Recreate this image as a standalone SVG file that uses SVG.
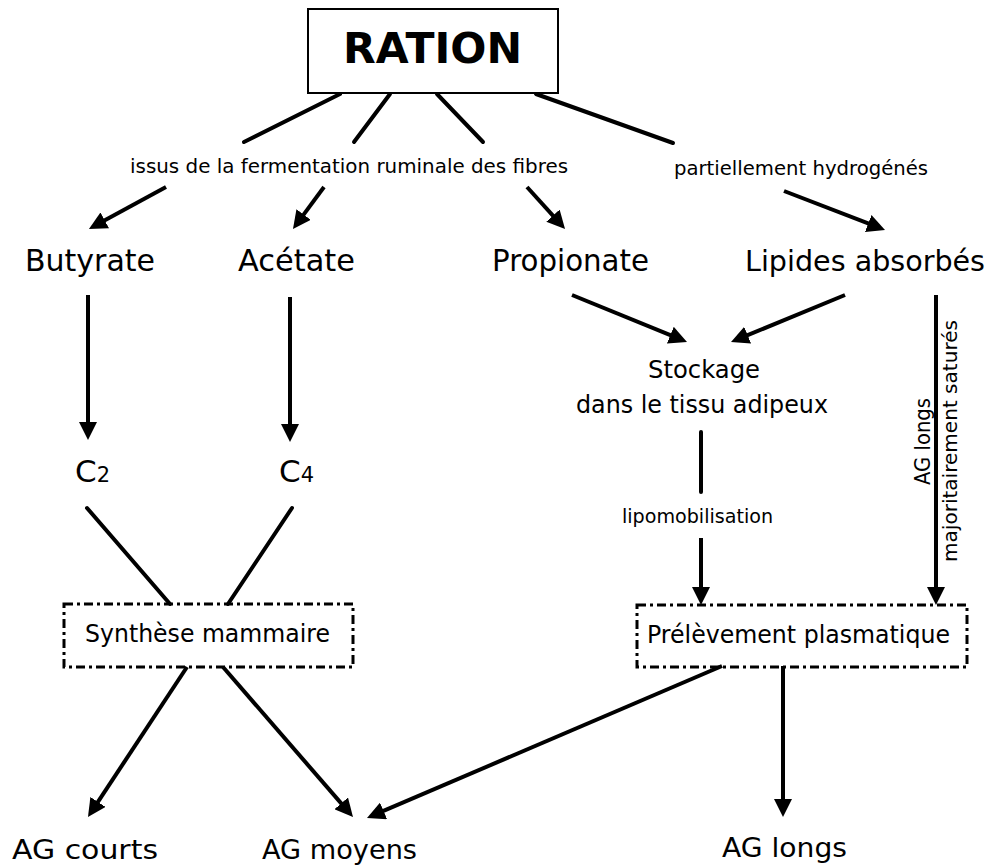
<svg xmlns="http://www.w3.org/2000/svg" width="993" height="867" viewBox="0 0 993 867">
<style>
text{font-family:"DejaVu Sans","Liberation Sans",sans-serif;fill:#000}
.big{font-size:31px}
.bot{font-size:27px}
.mid{font-size:25px}
.small{font-size:19px}
.ln{stroke:#000;stroke-width:4;fill:none;stroke-linecap:round}
.arr{stroke:#000;stroke-width:4;fill:none;marker-end:url(#ah)}
.dbox{fill:none;stroke:#000;stroke-width:3;stroke-dasharray:9 4 3 4}
</style>
<defs>
<marker id="ah" viewBox="0 0 18 18" refX="2" refY="9" markerWidth="18" markerHeight="18" markerUnits="userSpaceOnUse" orient="auto">
<path d="M0,0 L18,9 L0,18 z" fill="#000"/>
</marker>
</defs>
<rect width="993" height="867" fill="#fff"/>
<g id="connectors">
<line class="ln" x1="340" y1="94" x2="244" y2="142"/>
<line class="ln" x1="390" y1="94" x2="354" y2="142"/>
<line class="ln" x1="437" y1="94" x2="483" y2="142"/>
<line class="ln" x1="536" y1="94" x2="673" y2="143"/>
<line class="arr" x1="166" y1="187" x2="103" y2="221.3"/>
<line class="arr" x1="324" y1="187" x2="302.5" y2="216.1"/>
<line class="arr" x1="527" y1="187" x2="554.3" y2="217.1"/>
<line class="arr" x1="784" y1="191" x2="870.1" y2="224.2"/>
<line class="arr" x1="88" y1="295" x2="88" y2="424"/>
<line class="arr" x1="290" y1="297" x2="290" y2="426"/>
<line class="arr" x1="572" y1="295" x2="672.2" y2="335.9"/>
<line class="arr" x1="845" y1="295" x2="745.8" y2="335.9"/>
<line class="ln" x1="701" y1="432" x2="701" y2="492"/>
<line class="arr" x1="701" y1="538" x2="701" y2="589"/>
<line class="arr" x1="936" y1="295" x2="936" y2="589"/>
<line class="ln" x1="87" y1="508" x2="170" y2="604"/>
<line class="ln" x1="292" y1="508" x2="228" y2="604"/>
<line class="arr" x1="187" y1="667" x2="96.8" y2="803.6"/>
<line class="arr" x1="223" y1="667" x2="342.5" y2="804.9"/>
<line class="arr" x1="722" y1="666" x2="381.7" y2="811.7"/>
<line class="arr" x1="783" y1="666" x2="783" y2="801"/>
</g>
<g id="ration">
<rect x="308" y="9" width="250" height="84" fill="#fff" stroke="#000" stroke-width="2"/>
<text x="432.5" y="63" font-size="43" font-weight="bold" text-anchor="middle" textLength="179" lengthAdjust="spacingAndGlyphs">RATION</text>
</g>
<g id="label-fermentation">
<text class="small" x="349" y="173" text-anchor="middle" textLength="438" lengthAdjust="spacingAndGlyphs">issus de la fermentation ruminale des fibres</text>
</g>
<g id="label-hydrogenes">
<text class="small" x="801" y="175" text-anchor="middle" textLength="254" lengthAdjust="spacingAndGlyphs">partiellement hydrogénés</text>
</g>
<g id="butyrate"><text class="big" x="90" y="271" text-anchor="middle" textLength="130" lengthAdjust="spacingAndGlyphs">Butyrate</text></g>
<g id="acetate"><text class="big" x="296.5" y="271" text-anchor="middle" textLength="117" lengthAdjust="spacingAndGlyphs">Acétate</text></g>
<g id="propionate"><text class="big" x="570.5" y="271" text-anchor="middle" textLength="157" lengthAdjust="spacingAndGlyphs">Propionate</text></g>
<g id="lipides"><text x="865" y="271" font-size="28" text-anchor="middle" textLength="240" lengthAdjust="spacingAndGlyphs">Lipides absorbés</text></g>
<g id="c2"><text x="75" y="482" font-size="31">C<tspan font-size="21">2</tspan></text></g>
<g id="c4"><text x="279" y="482" font-size="31">C<tspan font-size="21">4</tspan></text></g>
<g id="stockage">
<text x="704" y="378" font-size="24" text-anchor="middle" textLength="112" lengthAdjust="spacingAndGlyphs">Stockage</text>
<text x="702" y="413" font-size="24" text-anchor="middle" textLength="252" lengthAdjust="spacingAndGlyphs">dans le tissu adipeux</text>
</g>
<g id="label-lipomobilisation">
<text x="697.5" y="523" font-size="20" text-anchor="middle" textLength="151" lengthAdjust="spacingAndGlyphs">lipomobilisation</text>
</g>
<g id="label-aglongs-vertical">
<text transform="translate(930,441.5) rotate(-90)" font-size="21" text-anchor="middle" textLength="87" lengthAdjust="spacingAndGlyphs">AG longs</text>
<text transform="translate(957,441) rotate(-90)" font-size="20" text-anchor="middle" textLength="242" lengthAdjust="spacingAndGlyphs">majoritairement saturés</text>
</g>
<g id="synthese">
<rect class="dbox" x="64" y="604" width="289" height="63"/>
<text class="mid" x="207.5" y="642" text-anchor="middle" textLength="245" lengthAdjust="spacingAndGlyphs">Synthèse mammaire</text>
</g>
<g id="prelevement">
<rect class="dbox" x="637" y="605" width="330" height="62"/>
<text class="mid" x="798.5" y="643" text-anchor="middle" textLength="303" lengthAdjust="spacingAndGlyphs">Prélèvement plasmatique</text>
</g>
<g id="ag-courts"><text class="bot" x="85" y="859" text-anchor="middle" textLength="146" lengthAdjust="spacingAndGlyphs">AG courts</text></g>
<g id="ag-moyens"><text class="bot" x="339.5" y="859" text-anchor="middle" textLength="155" lengthAdjust="spacingAndGlyphs">AG moyens</text></g>
<g id="ag-longs"><text class="bot" x="784.5" y="857" text-anchor="middle" textLength="125" lengthAdjust="spacingAndGlyphs">AG longs</text></g>
</svg>
